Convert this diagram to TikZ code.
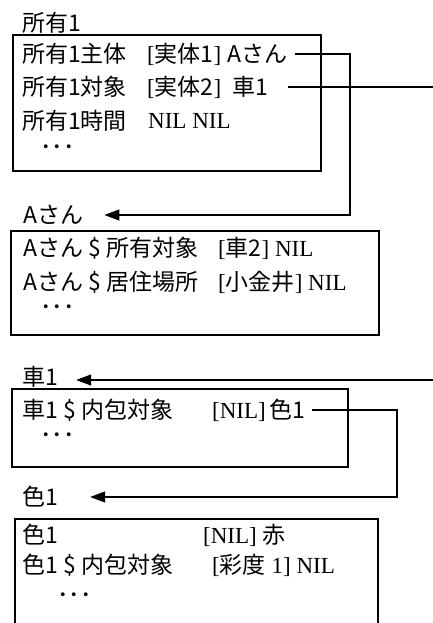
\documentclass[tikz,border=0pt]{standalone}
\usepackage{fontspec}
\setmainfont{Liberation Serif}
\newfontfamily\jpf{Noto Sans CJK JP}
\newfontfamily\srf{Liberation Serif}
\newcommand\J[1]{{\jpf #1}}
\newcommand\R[1]{{\srf #1}}
\usetikzlibrary{arrows.meta}
\begin{document}
\begin{tikzpicture}[x=1pt,y=-1pt,
  seg/.style={anchor=west,inner sep=0pt,font=\fontsize{23}{27}\selectfont},
  recbox/.style={draw,line width=1.5pt},
  conn/.style={line width=1.3pt},
  arr/.style={conn,-{Triangle[length=15pt,width=11pt]}}]
\useasboundingbox (0,0) rectangle (433,623);
% ---------- box 1
\node[seg] (t1) at (22,23) {\J{所有1}};
\draw[recbox] (13,35) rectangle (321,171);
\node[seg] (s1a) at (22,54) {\J{所有1主体}};
\node[seg] (s1b) at (147,54) {\R{[}\J{実体1}\R{]}};
\node[seg] (s1c) at (227,54) {\J{Aさん}};
\node[seg] (s2a) at (22,87) {\J{所有1対象}};
\node[seg] (s2b) at (147,87) {\R{[}\J{実体2}\R{]}};
\node[seg] (s2c) at (232,87) {\J{車1}};
\node[seg] (s3a) at (22,121) {\J{所有1時間}};
\node[seg] (s3b) at (148,121) {\R{NIL NIL}};
\node[seg] (d1) at (40,150) {\J{･･･}};
% ---------- box 2
\node[seg] (t2) at (23,215) {\J{Aさん}};
\draw[recbox] (11,231) rectangle (379,335);
\node[seg] (u1a) at (23,248) {\J{Aさん \$ 所有対象}};
\node[seg] (u1b) at (218,248) {\R{[}\J{車2}\R{] NIL}};
\node[seg] (u2a) at (23,282) {\J{Aさん \$ 居住場所}};
\node[seg] (u2b) at (218,282) {\R{[}\J{小金井}\R{] NIL}};
\node[seg] (d2) at (40,310) {\J{･･･}};
% ---------- box 3
\node[seg] (t3) at (22,377) {\J{車1}};
\draw[recbox] (12,389) rectangle (348,467);
\node[seg] (v1a) at (22,410) {\J{車1 \$ 内包対象}};
\node[seg] (v1b) at (212,410) {\R{[NIL]\,}\J{色1}};
\node[seg] (d3) at (40,438) {\J{･･･}};
% ---------- box 4
\node[seg] (t4) at (22,497) {\J{色1}};
\draw[recbox] (15,519) rectangle (378,640);
\node[seg] (w1a) at (22,535) {\J{色1}};
\node[seg] (w1b) at (203,535) {\R{[NIL] }\J{赤}};
\node[seg] (w2a) at (22,565) {\J{色1 \$ 内包対象}};
\node[seg] (w2b) at (212,565) {\R{[}\J{彩度}\R{ 1] NIL}};
\node[seg] (d4) at (57,598) {\J{･･･}};
% ---------- connectors
\coordinate (kA) at (350,0);
\coordinate (kB) at (397,0);
\coordinate (eR1) at (433,87);
\coordinate (eR2) at (433,380);
\draw[arr,shorten <=8pt,shorten >=21pt] (s1c.east) -- (s1c.east -| kA) |- (t2.east);
\draw[conn,shorten <=20pt] (s2c.east) -- (eR1);
\draw[arr,shorten >=18pt] (eR2) -- (eR2 -| t3.east);
\draw[arr,shorten <=6pt,shorten >=32pt] (v1b.east) -- (v1b.east -| kB) |- (t4.east);
\end{tikzpicture}
\end{document}
